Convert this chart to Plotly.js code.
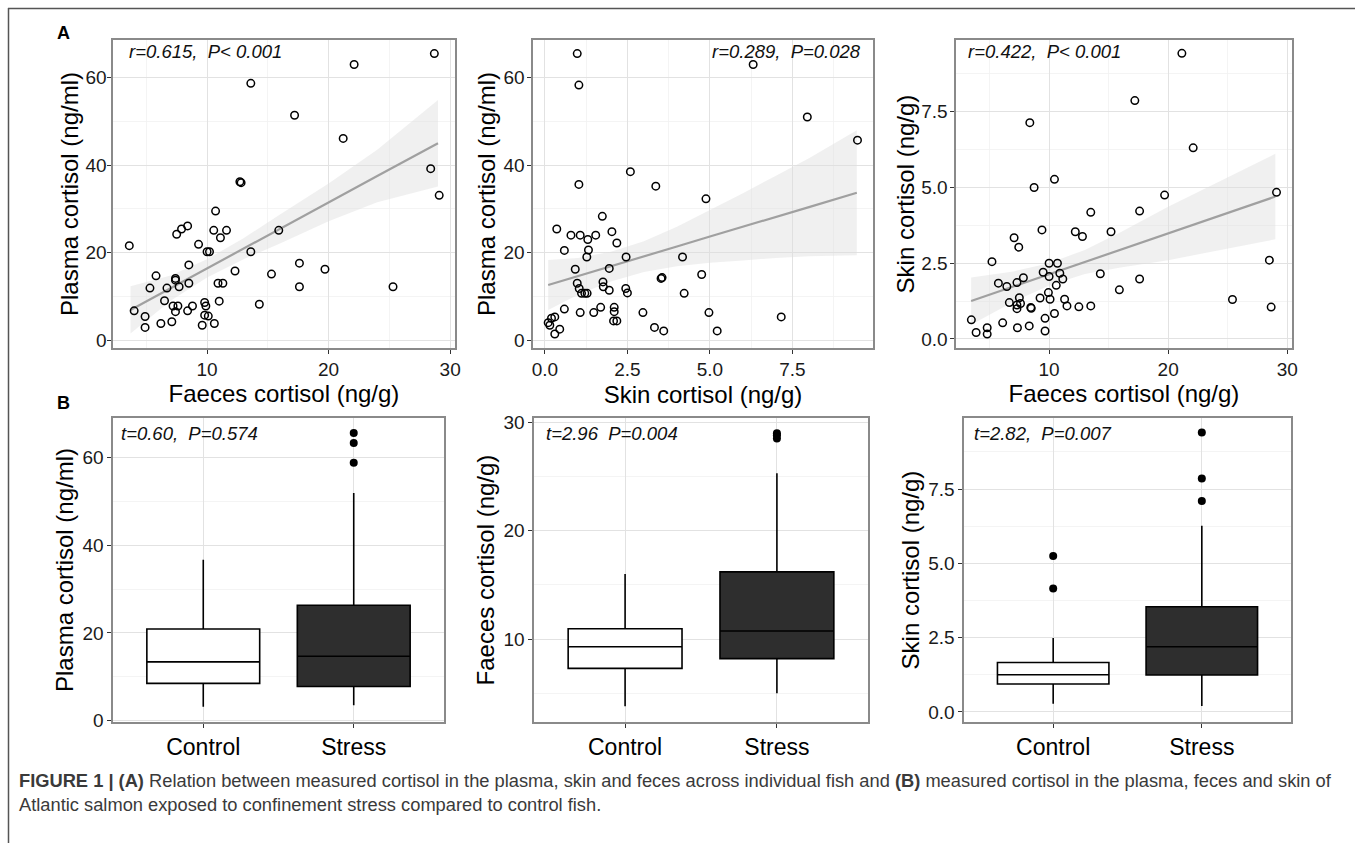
<!DOCTYPE html>
<html>
<head>
<meta charset="utf-8">
<script src="https://cdn.plot.ly/plotly-3.0.1.min.js"></script>
<style>
html,body{margin:0;padding:0;background:#fff;overflow:hidden;}
#chart{width:1355px;height:843px;}
</style>
</head>
<body>
<div id="chart"></div>
<script>
// ---------------- DATA ----------------
// Panel A1: faeces cortisol (x) vs plasma cortisol (y)
const a1Faeces = [28.7,22.1,13.6,17.2,21.2,28.4,29.1,12.7,12.8,10.7,7.5,7.9,8.4,10.55,11.6,11.1,15.9,3.6,9.3,10.0,10.2,13.6,8.5,12.3,15.3,17.6,19.7,17.6,25.3,5.8,5.3,7.4,7.4,6.7,7.7,8.5,10.9,11.3,6.5,7.2,7.6,8.8,8.4,7.4,9.8,9.9,11.0,14.3,4.0,4.9,4.9,6.2,7.1,9.6,10.6,9.8,10.1];
const a1Plasma = [65.5,63.0,58.7,51.4,46.1,39.2,33.1,36.2,36.0,29.5,24.2,25.4,26.1,25.1,25.1,23.4,25.1,21.6,21.9,20.2,20.2,20.2,17.2,15.8,15.1,17.6,16.2,12.2,12.2,14.7,11.9,13.7,14.1,11.9,12.2,13.0,13.0,13.0,9.0,7.8,7.8,7.8,6.7,6.5,8.6,7.8,8.9,8.2,6.7,5.4,2.9,3.8,4.2,3.4,3.8,5.7,5.5];
const a1FitX = [3.7,7,10,13,16,20,24,29];
const a1FitY = [6.9,11.9,16.4,20.9,25.4,31.5,37.5,45.0];
const a1Upper = [12.3,14.8,18.5,23.3,28.7,35.8,43.5,54.9];
const a1Lower = [1.5,9.0,14.3,18.5,22.1,27.2,31.5,35.1];

// Panel A2: skin cortisol (x) vs plasma cortisol (y)
const a2Skin = [0.98,1.03,6.31,7.95,9.47,1.03,2.59,3.36,4.88,1.74,0.36,0.79,1.07,1.54,1.30,2.03,2.18,0.59,1.32,1.27,2.46,4.17,0.92,1.95,4.75,3.52,3.55,0.98,1.04,1.11,1.21,1.28,1.76,1.77,1.95,2.45,2.50,4.22,0.59,1.07,1.48,1.69,2.10,2.10,2.97,4.97,7.16,2.08,2.18,3.32,3.60,5.22,0.10,0.20,0.30,0.15,0.30,0.45];
const a2Plasma = [65.5,58.3,63.0,51.0,45.7,35.6,38.5,35.2,32.3,28.3,25.4,24.0,24.0,24.0,23.0,24.8,22.2,20.5,20.6,19.0,19.0,19.0,16.2,16.4,15.0,14.1,14.3,13.0,11.8,10.7,10.7,10.7,13.3,12.2,11.4,11.8,10.8,10.7,7.1,6.3,6.3,7.5,7.5,6.5,6.3,6.3,5.3,4.4,4.4,2.9,2.1,2.1,4.0,5.0,5.3,3.4,1.4,2.5];
const a2FitX = [0.1,1,2,3,4,5,6,7,8,9.45];
const a2FitY = [12.6,14.6,16.8,19.1,21.4,23.7,25.9,28.2,30.4,33.7];
const a2Upper = [18.3,18.8,20.2,22.6,25.9,29.7,33.6,37.6,41.6,48.0];
const a2Lower = [6.9,10.4,13.4,15.6,16.9,17.7,18.2,18.8,19.2,19.4];

// Panel A3: faeces cortisol (x) vs skin cortisol (y)
const a3Faeces = [21.15,17.2,8.38,22.1,8.74,10.45,19.7,29.1,13.5,17.6,9.4,12.2,12.8,15.2,7.06,7.45,5.2,10.0,10.7,28.5,14.3,17.6,15.9,25.4,28.65,5.74,6.45,7.3,7.84,9.5,10.0,10.9,11.15,10.6,6.66,7.3,7.5,7.6,7.3,8.46,8.5,9.24,9.94,10.08,11.3,11.5,12.5,13.5,10.45,9.66,9.66,8.33,7.34,6.1,4.8,4.8,3.87,3.47];
const a3Skin = [9.43,7.87,7.14,6.31,5.00,5.27,4.75,4.84,4.18,4.22,3.60,3.54,3.38,3.54,3.34,3.03,2.55,2.50,2.50,2.60,2.15,1.98,1.62,1.30,1.05,1.84,1.73,1.86,2.02,2.20,2.06,2.17,1.98,1.77,1.20,1.12,1.36,1.17,1.00,1.04,1.01,1.35,1.53,1.31,1.31,1.09,1.06,1.09,0.84,0.68,0.26,0.43,0.37,0.53,0.37,0.16,0.21,0.63];
const a3FitX = [3.45,7,10,13,16,20,24,29];
const a3FitY = [1.25,1.73,2.13,2.54,2.94,3.48,4.02,4.70];
const a3Upper = [2.03,2.23,2.50,2.94,3.52,4.36,5.14,6.11];
const a3Lower = [0.47,1.23,1.76,2.14,2.36,2.60,2.90,3.29];

// Panel B: box plot statistics (Control, Stress)
const groups = ['Control','Stress'];
const plasmaQ1 = [8.5,7.8],  plasmaMed = [13.4,14.7], plasmaQ3 = [20.9,26.3], plasmaLo = [3.2,3.5], plasmaHi = [36.7,51.9];
const plasmaOutG = ['Stress','Stress','Stress'], plasmaOutY = [58.8,63.3,65.6];
const faecesQ1 = [7.3,8.2],  faecesMed = [9.3,10.75], faecesQ3 = [10.95,16.2], faecesLo = [3.8,5.0], faecesHi = [16.0,25.3];
const faecesOutG = ['Stress','Stress','Stress'], faecesOutY = [28.5,28.8,29.0];
const skinQ1 = [0.94,1.24],  skinMed = [1.25,2.19], skinQ3 = [1.66,3.54], skinLo = [0.27,0.2], skinHi = [2.49,6.26];
const skinOutG = ['Control','Control','Stress','Stress','Stress'], skinOutY = [4.15,5.25,7.1,7.85,9.4];

const statTexts = ['r=0.615,  P< 0.001','r=0.289,  P=0.028','r=0.422,  P< 0.001','t=0.60,  P=0.574','t=2.96  P=0.004','t=2.82,  P=0.007'];

// ---------------- LAYOUT HELPERS ----------------
const W = 1355, H = 843;
const FONT = 'Liberation Sans, Arial, Helvetica, sans-serif';
const fx = p => p / W;
const fy = p => 1 - p / H;
// pixel boxes [left, top, right, bottom]
const PANELS = [[113,40,455,348],[533,40,873,348],[956,40,1292,348],
                [113,418,444,722],[534,418,868,722],[964,418,1291,722]];
const boxFills = ['#ffffff','#2e2e2e'];

const traces = [];
const layout = {
  width: W, height: H,
  margin: {l:0,r:0,t:0,b:0},
  paper_bgcolor: '#ffffff', plot_bgcolor: '#ffffff',
  showlegend: false,
  font: {family: FONT, color: '#000'},
  annotations: [], shapes: []
};

function axisBase(i, isX, range, opts) {
  const p = PANELS[i];
  const id = i === 0 ? '' : String(i + 1);
  const ax = Object.assign({
    domain: isX ? [fx(p[0]), fx(p[2])] : [fy(p[3]), fy(p[1])],
    anchor: (isX ? 'y' : 'x') + id,
    range: range,
    showline: true, mirror: true, linecolor: '#8a8a8a', linewidth: 1.6,
    ticks: 'outside', ticklen: 4, tickwidth: 1, tickcolor: '#333',
    showgrid: true, gridcolor: '#e2e2e2', gridwidth: 1,
    zeroline: false, fixedrange: true,
    tickfont: {family: FONT, size: 19, color: '#1a1a1a'}
  }, opts || {});
  layout[(isX ? 'xaxis' : 'yaxis') + id] = ax;
}
function minor(dtick, tick0) {
  return {dtick: dtick, tick0: tick0 || 0, showgrid: true, gridcolor: '#f1f1f1', gridwidth: 0.8, ticks: ''};
}
function titleObj(text, standoff) {
  return {text: text, font: {family: FONT, size: 24, color: '#000'}, standoff: standoff};
}

// ---------------- SCATTER PANELS ----------------
function scatterPanel(i, xs, ys, fitX, fitY, up, lo) {
  const id = i === 0 ? '' : String(i + 1);
  const xa = 'x' + id, ya = 'y' + id;
  traces.push({
    type: 'scatter', mode: 'lines', xaxis: xa, yaxis: ya,
    x: fitX.concat(fitX.slice().reverse()),
    y: up.concat(lo.slice().reverse()),
    fill: 'toself', fillcolor: 'rgba(222,222,222,0.45)',
    line: {width: 0}, hoverinfo: 'skip'
  });
  traces.push({
    type: 'scatter', mode: 'lines', xaxis: xa, yaxis: ya,
    x: fitX, y: fitY, line: {color: '#a0a0a0', width: 2.2}, hoverinfo: 'skip'
  });
  traces.push({
    type: 'scatter', mode: 'markers', xaxis: xa, yaxis: ya,
    x: xs, y: ys,
    marker: {symbol: 'circle-open', size: 7.5, color: '#000', line: {width: 1.5, color: '#000'}}
  });
}
scatterPanel(0, a1Faeces, a1Plasma, a1FitX, a1FitY, a1Upper, a1Lower);
scatterPanel(1, a2Skin, a2Plasma, a2FitX, a2FitY, a2Upper, a2Lower);
scatterPanel(2, a3Faeces, a3Skin, a3FitX, a3FitY, a3Upper, a3Lower);

axisBase(0, true, [2.26, 30.4], {tickvals: [10,20,30], minor: minor(5), title: titleObj('Faeces cortisol (ng/g)', 5)});
axisBase(0, false, [-1.8, 68.6], {tickvals: [0,20,40,60], minor: minor(10), ticklabelstandoff: -3, title: titleObj('Plasma cortisol (ng/ml)', 0)});
axisBase(1, true, [-0.36, 9.94], {tickvals: [0,2.5,5,7.5], tickformat: '.1f', minor: minor(1.25), title: titleObj('Skin cortisol (ng/g)', 7)});
axisBase(1, false, [-1.8, 68.6], {tickvals: [0,20,40,60], minor: minor(10), ticklabelstandoff: -1, title: titleObj('Plasma cortisol (ng/ml)', 1)});
axisBase(2, true, [2.18, 30.4], {tickvals: [10,20,30], minor: minor(5), title: titleObj('Faeces cortisol (ng/g)', 5)});
axisBase(2, false, [-0.3, 9.87], {tickvals: [0,2.5,5,7.5], tickformat: '.1f', minor: minor(1.25), ticklabelstandoff: -1, title: titleObj('Skin cortisol (ng/g)', 0)});

// ---------------- BOX PANELS ----------------
function boxPanel(i, q1, med, q3, lo, hi, outG, outY) {
  const id = String(i + 1);
  groups.forEach((g, k) => {
    traces.push({
      type: 'box', xaxis: 'x' + id, yaxis: 'y' + id,
      x: [g], q1: [q1[k]], median: [med[k]], q3: [q3[k]],
      lowerfence: [lo[k]], upperfence: [hi[k]],
      width: 0.75, whiskerwidth: 0, boxpoints: false,
      fillcolor: boxFills[k], line: {color: '#000', width: 1.6},
      hoverinfo: 'skip'
    });
  });
  traces.push({
    type: 'scatter', mode: 'markers', xaxis: 'x' + id, yaxis: 'y' + id,
    x: outG, y: outY, marker: {symbol: 'circle', size: 8, color: '#000'}
  });
}
boxPanel(3, plasmaQ1, plasmaMed, plasmaQ3, plasmaLo, plasmaHi, plasmaOutG, plasmaOutY);
boxPanel(4, faecesQ1, faecesMed, faecesQ3, faecesLo, faecesHi, faecesOutG, faecesOutY);
boxPanel(5, skinQ1, skinMed, skinQ3, skinLo, skinHi, skinOutG, skinOutY);

const catAxis = {type: 'category', categoryorder: 'array', categoryarray: groups, range: [-0.6, 1.6],
  tickfont: {family: FONT, size: 23, color: '#000'}, ticklabelstandoff: 0};
axisBase(3, true, [-0.6, 1.6], catAxis);
axisBase(3, false, [-0.3, 69.0], {tickvals: [0,20,40,60], minor: minor(10), title: titleObj('Plasma cortisol (ng/ml)', 2)});
axisBase(4, true, [-0.6, 1.6], catAxis);
axisBase(4, false, [2.35, 30.4], {tickvals: [10,20,30], minor: minor(5), title: titleObj('Faeces cortisol (ng/g)', 2)});
axisBase(5, true, [-0.6, 1.6], catAxis);
axisBase(5, false, [-0.34, 9.89], {tickvals: [0,2.5,5,7.5], tickformat: '.1f', minor: minor(1.25), title: titleObj('Skin cortisol (ng/g)', 2)});

// ---------------- ANNOTATIONS ----------------
const statPos = [[127,51,'left'],[863,51,'right'],[966,51,'left'],[119,433,'left'],[544,433,'left'],[972,433,'left']];
statTexts.forEach((t, k) => {
  layout.annotations.push({
    xref: 'paper', yref: 'paper', x: fx(statPos[k][0]), y: fy(statPos[k][1]),
    xanchor: statPos[k][2], yanchor: 'middle', showarrow: false,
    text: '<i>' + t + '</i>', font: {family: FONT, size: 18.5, color: '#111'}
  });
});
[['A',63,33],['B',63,403]].forEach(a => {
  layout.annotations.push({
    xref: 'paper', yref: 'paper', x: fx(a[1]), y: fy(a[2]), xanchor: 'center', yanchor: 'middle',
    showarrow: false, text: '<b>' + a[0] + '</b>', font: {family: FONT, size: 18, color: '#000'}
  });
});
const captionLines = [
  '<b>FIGURE 1 | (A)</b> Relation between measured cortisol in the plasma, skin and feces across individual fish and <b>(B)</b> measured cortisol in the plasma, feces and skin of',
  'Atlantic salmon exposed to confinement stress compared to control fish.'
];
[[captionLines[0], 780], [captionLines[1], 804]].forEach(c => {
  layout.annotations.push({
    xref: 'paper', yref: 'paper', x: fx(17), y: fy(c[1]), xanchor: 'left', yanchor: 'middle',
    showarrow: false, text: c[0], font: {family: FONT, size: 18.3, color: '#3a3a3a'}
  });
});

// frame lines
layout.shapes.push({type: 'line', xref: 'paper', yref: 'paper', x0: fx(8), x1: 1, y0: fy(8.5), y1: fy(8.5), line: {color: '#555', width: 1.5}});
layout.shapes.push({type: 'line', xref: 'paper', yref: 'paper', x0: fx(8.5), x1: fx(8.5), y0: fy(8), y1: 0, line: {color: '#555', width: 1.5}});

Plotly.newPlot('chart', traces, layout, {displayModeBar: false, staticPlot: true});
</script>
</body>
</html>
